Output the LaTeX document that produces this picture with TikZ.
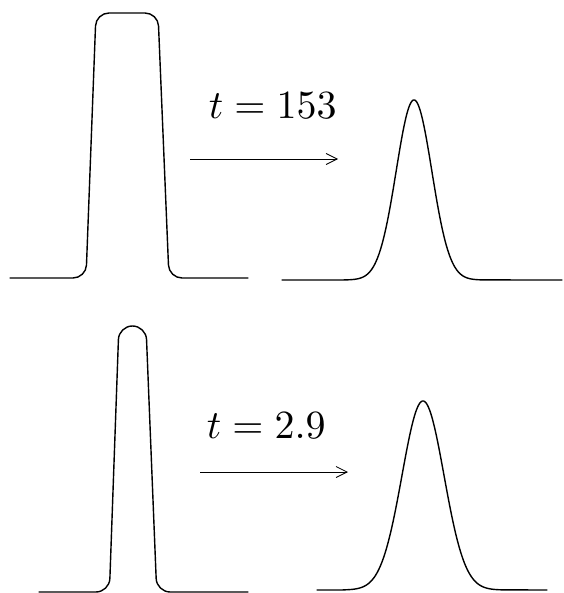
\documentclass[tikz,border=0pt]{standalone}
\usetikzlibrary{arrows.meta}
\begin{document}
\begin{tikzpicture}[x=1pt,y=-1pt,
  pulse/.style={line width=1.4pt, line join=round, line cap=round},
  evol/.style={line width=0.8pt, -{Straight Barb[length=11pt,width=11pt,line width=0.8pt]}},
  lbl/.style={anchor=base west, inner sep=0pt, font=\fontsize{10}{12}\selectfont, scale=4},
  declare function={gs(\u,\s)=exp(-(\u*\u)/(2*\s*\s));}]
\useasboundingbox (0,0) rectangle (563,593);
% top-left flat-top pulse
\draw[pulse, rounded corners=13pt] (10,278) -- (86,278) -- (96,13) -- (158,13) -- (169,278) -- (248,278);
% top-right gaussian
\draw[pulse] (282,280) -- (344,280)
  -- plot[domain=344:484, samples=241] (\x, {280-180*gs(\x-414,17.8)})
  -- (562,280);
% bottom-left narrow pulse
\draw[pulse, rounded corners=13.5pt] (39,592) -- (109.4,592) -- (118.9,326) -- (146,326) -- (156.7,592) -- (248,592);
% bottom-right gaussian
\draw[pulse] (317,590) -- (343,590)
  -- plot[domain=343:503, samples=241] (\x, {590-189*gs(\x-423,21)})
  -- (547,590);
% arrows and labels
\coordinate (a1s) at (190,159);
\coordinate (a1e) at (338,159);
\coordinate (a2s) at (200,472);
\coordinate (a2e) at (348,472);
\draw[evol] (a1s) -- (a1e);
\draw[evol] (a2s) -- (a2e);
\node[lbl] (lab1) at (208,119) {$t = 153$};
\node[lbl] (lab2) at (206,438) {$t = 2.9$};
\end{tikzpicture}
\end{document}
